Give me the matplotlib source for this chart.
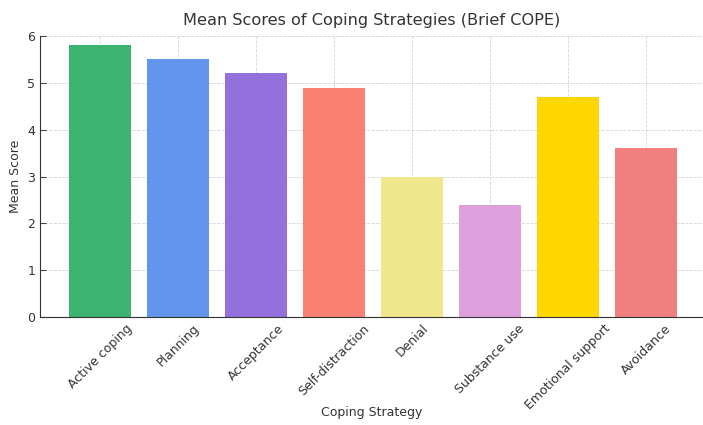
import matplotlib
matplotlib.use('Agg')
from matplotlib import pyplot as plt

strategies = ['Active coping', 'Planning', 'Acceptance', 'Self-distraction',
              'Denial', 'Substance use', 'Emotional support', 'Avoidance']
mean_scores = [5.8, 5.5, 5.2, 4.9, 3.0, 2.4, 4.7, 3.6]
bar_colors = ['mediumseagreen', 'cornflowerblue', 'mediumpurple', 'salmon',
              'khaki', 'plum', 'gold', 'lightcoral']

fig = plt.figure(figsize=(7.03, 4.25), dpi=100)
ax = fig.add_axes([40/703, 1 - 317/425, 1 - 40/703, (317 - 36)/425])

x = range(len(strategies))
ax.bar(x, mean_scores, width=0.8, color=bar_colors, zorder=2)

ax.set_xlim(-0.77, 7.73)
ax.set_ylim(0, 6)
ax.set_xticks(list(x))
ax.set_xticklabels(strategies, rotation=45, fontsize=9, color='#333333')
ax.tick_params(axis='both', direction='in', length=4, color='#444444',
               labelcolor='#333333', labelsize=9)

ax.grid(True, linestyle='--', linewidth=0.6, color='#d5d5d5', zorder=0)
ax.set_axisbelow(True)
for s in ['top', 'right']:
    ax.spines[s].set_visible(False)
for s in ['left', 'bottom']:
    ax.spines[s].set_color('#333333')

ax.set_title('Mean Scores of Coping Strategies (Brief COPE)', fontsize=11.6,
             color='#333333', pad=8)
ax.set_xlabel('Coping Strategy', fontsize=9, color='#333333')
ax.xaxis.set_label_coords(0.5, -0.318)
ax.set_ylabel('Mean Score', fontsize=9, color='#333333')

fig.savefig('out.png', dpi=100)
